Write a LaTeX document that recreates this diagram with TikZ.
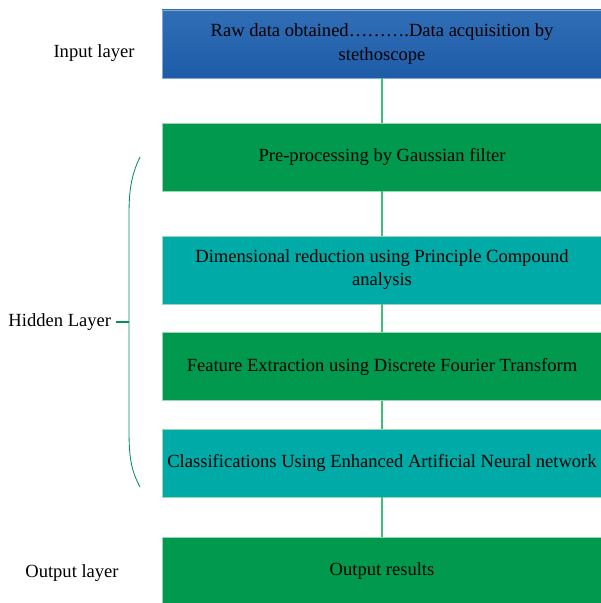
\documentclass[tikz,border=0pt]{standalone}
\usepackage{fontspec}
\setmainfont{Liberation Serif}
\usetikzlibrary{positioning}
\definecolor{rawblue}{RGB}{48,110,182}
\definecolor{rawblueb}{RGB}{30,92,168}
\definecolor{stagegreen}{RGB}{0,153,77}
\definecolor{stageteal}{RGB}{0,170,166}
\definecolor{linkgreen}{RGB}{60,190,125}
\definecolor{bracegreen}{RGB}{0,145,85}

\begin{document}
\begin{tikzpicture}[
    stage/.style={minimum width=11cm, minimum height=1.7cm, inner sep=0pt, align=center,
                  font=\fontsize{13.2}{16.5}\selectfont, draw=stagegreen!40!white, line width=0.4pt},
    layer/.style={font=\fontsize{13.2}{16.5}\selectfont},
    link/.style={draw=linkgreen, line width=0.8pt}
]
    \useasboundingbox (0,0) rectangle (15,-15.075);

    \node[stage, top color=rawblue, bottom color=rawblueb, draw=rawblue!60!white] (raw) at (9.55,-1.1)
        {Raw data obtained……….Data acquisition by\\stethoscope};
    \node[stage, fill=stagegreen, below=1.11cm of raw]  (gauss) {Pre-processing by Gaussian filter};
    \node[stage, fill=stageteal, below=1.11cm of gauss] (pca)   {Dimensional reduction using Principle Compound\\analysis};
    \node[stage, fill=stagegreen, below=0.7cm of pca]   (dft)   {Feature Extraction using Discrete Fourier Transform};
    \node[stage, fill=stageteal, below=0.7cm of dft]    (eann)  {Classifications Using Enhanced Artificial Neural network};
    \node[stage, fill=stagegreen, below=0.98cm of eann] (out)   {Output results};

    \draw[link] (raw) -- (gauss);
    \draw[link] (gauss) -- (pca);
    \draw[link] (pca) -- (dft);
    \draw[link] (dft) -- (eann);
    \draw[link] (eann) -- (out);

    \node[layer] (inlayer)  at (2.35,-1.325)  {Input layer};
    \node[layer] (outlayer) at (1.8,-14.325)  {Output layer};
    \node[layer, anchor=east] (hidlayer) at (2.9,-8.05) {Hidden Layer};

    % brace round the hidden stages
    \coordinate (bracetop) at (3.5,-3.925);
    \coordinate (bracebot) at (3.5,-12.175);
    \coordinate (bracemid) at (3.225,-8.05);
    \draw[bracegreen, line width=0.6pt] (bracetop) .. controls (3.27,-4.4) and (3.225,-4.8) .. (3.225,-5.375)
        -- (3.225,-10.75) .. controls (3.225,-11.4) and (3.27,-11.75) .. (bracebot);
    \draw[bracegreen, line width=0.8pt] (hidlayer.east) -- (bracemid);
\end{tikzpicture}
\end{document}
